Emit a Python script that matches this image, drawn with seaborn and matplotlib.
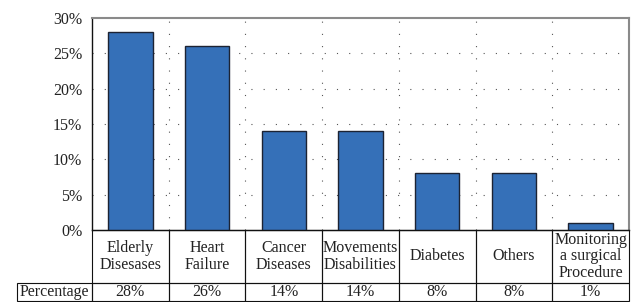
import matplotlib
matplotlib.use("Agg")
import matplotlib.pyplot as plt
import seaborn as sns
from matplotlib.ticker import PercentFormatter
from matplotlib.patches import Rectangle

# ---- data ----
categories = ["Elderly\nDisesases", "Heart\nFailure", "Cancer\nDiseases",
              "Movements\nDisabilities", "Diabetes", "Others",
              "Monitoring\na surgical\nProcedure"]
values = [28, 26, 14, 14, 8, 8, 1]
row_label = "Percentage"
pct_labels = [f"{v}%" for v in values]

sns.set_style("white")
plt.rcParams["font.family"] = ["Liberation Serif", "DejaVu Serif"]

W, H = 633, 302
fig = plt.figure(figsize=(W / 100, H / 100), dpi=100)
left, right, top, bottom = 92, 629, 18, 230
ax = fig.add_axes([left / W, 1 - bottom / H, (right - left) / W, (bottom - top) / H])

idx = list(range(len(categories)))
sns.barplot(x=idx, y=values, color="#3570b8", edgecolor="#1c2333",
            linewidth=1.0, width=0.58, saturation=1, ax=ax, zorder=3)

ax.set_xlim(-0.5, len(categories) - 0.5)
ax.set_ylim(0, 30)
ax.set_yticks([0, 5, 10, 15, 20, 25, 30])
ax.yaxis.set_major_formatter(PercentFormatter(decimals=0))
ax.tick_params(axis="y", length=0, pad=7, labelsize=11.5, colors="#222222")
ax.set_xticks([])
ax.set_xlabel(""); ax.set_ylabel("")

# dotted grid (horizontal at ticks, vertical at category boundaries)
for yv in [5, 10, 15, 20, 25]:
    ax.axhline(yv, color="#555555", lw=0.8, linestyle=(0, (1, 10)), zorder=1)
for xv in [i + 0.5 for i in idx[:-1]]:
    ax.axvline(xv, color="#555555", lw=0.8, linestyle=(0, (1, 10)), zorder=1)

for s in ["top", "right"]:
    ax.spines[s].set_color("#8a8a8a")
    ax.spines[s].set_linewidth(1.5)
for s in ["left", "bottom"]:
    ax.spines[s].set_color("#111111")
    ax.spines[s].set_linewidth(1.0)

# ---- data table under the chart (drawn in figure pixels) ----
lab_left = 17
hdr_bot = 283
row_bot = 301
colw = (right - left) / len(categories)


def fx(px):
    return px / W


def fy(py):
    return 1 - py / H


def cell(x0, y0, x1, y1, text, **kw):
    fig.patches.append(Rectangle((fx(x0), fy(y1)), fx(x1) - fx(x0), fy(y0) - fy(y1),
                                 transform=fig.transFigure, fill=False,
                                 edgecolor="#111111", linewidth=0.8))
    fig.text(fx((x0 + x1) / 2), fy((y0 + y1) / 2), text, ha="center", va="center",
             fontsize=11.5, color="#222222", linespacing=1.05, **kw)


for i, (cat, lab) in enumerate(zip(categories, pct_labels)):
    x0 = left + i * colw
    cell(x0, bottom, x0 + colw, hdr_bot, cat)
    cell(x0, hdr_bot, x0 + colw, row_bot, lab)
cell(lab_left, hdr_bot, left, row_bot, row_label)

plt.savefig("out.png", dpi=100)
plt.close()
